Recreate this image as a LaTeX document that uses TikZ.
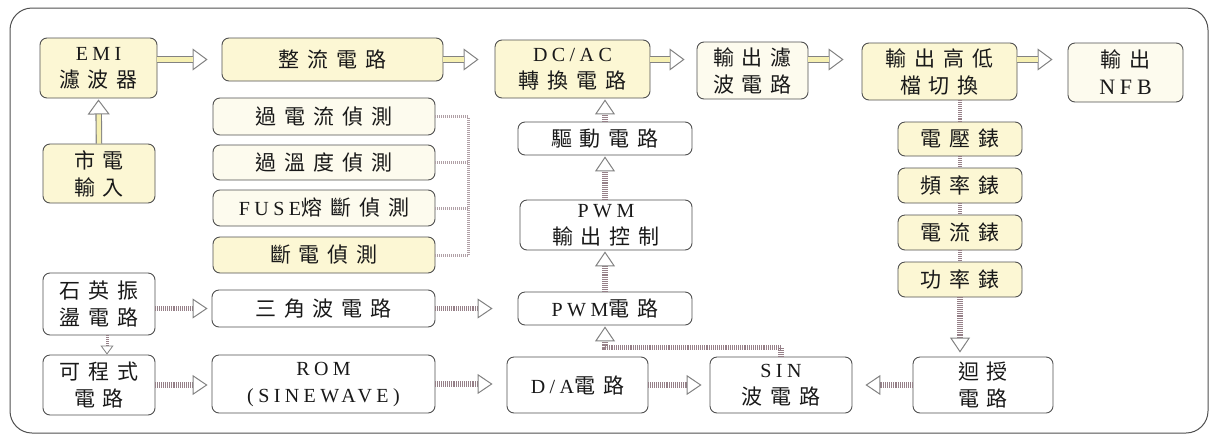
\documentclass[tikz,border=0pt]{standalone}
\usepackage{fontspec}
\setmainfont[LetterSpace=22]{Liberation Serif}
\newfontfamily\cjk[LetterSpace=38]{Noto Sans CJK TC}
\usetikzlibrary{arrows.meta,calc}
\definecolor{yfill}{RGB}{252,247,212}
\definecolor{lfill}{RGB}{253,251,238}
\definecolor{edge}{RGB}{80,80,80}
\definecolor{ladc}{RGB}{150,128,136}
\definecolor{headc}{RGB}{130,130,130}
\definecolor{yshaft}{RGB}{246,240,178}
\definecolor{txt}{RGB}{25,25,25}
\tikzset{
  box/.style n args={2}{draw=edge, line width=0.9pt, rounded corners=7pt,
    minimum width=#1pt, minimum height=#2pt, inner sep=0pt, align=center,
    text=txt, font=\fontsize{20}{27}\selectfont},
  ybox/.style n args={2}{box={#1}{#2}, fill=yfill},
  lbox/.style n args={2}{box={#1}{#2}, fill=lfill},
  wbox/.style n args={2}{box={#1}{#2}, fill=white},
  cj/.style={font=\fontsize{21}{27}\selectfont\cjk},
  yarrow/.style={draw=headc, line width=6.5pt, shorten >=#1,
    -{Triangle[open, length=15pt, width=22pt, line width=1pt, color=headc]},
    postaction={draw=yshaft, line width=4.3pt, arrows=-, shorten >=#1+15pt}},
  lad/.style={draw=ladc, line width=5.5pt, dash pattern=on 0.9pt off 1pt, shorten >=#1,
    -{Triangle[open, length=15pt, width=20pt, line width=1pt, color=headc]}},
  ladplain/.style={draw=ladc, line width=4.5pt, dash pattern=on 0.9pt off 1pt},
  brk/.style={draw=ladc!75, line width=3pt, dash pattern=on 0.9pt off 1.1pt},
  frame/.style={draw=edge, line width=1pt, rounded corners=22pt}
}
\newcommand\cj[1]{{\fontsize{21}{27}\selectfont\cjk #1}}
\begin{document}
\begin{tikzpicture}[x=1pt,y=-1pt]
\useasboundingbox (0,0) rectangle (1212,437);
\draw[frame] (10,8) rectangle (1208,433);

% nodes
\node[ybox={117}{60}] (emi) at (98.5,68) {EMI\\\cj{濾波器}};
\node[ybox={112}{59}, cj] (mains) at (99,173.5) {市電\\輸入};
\node[ybox={221}{43}, cj] (rect) at (332.5,59.5) {整流電路};
\node[lbox={222}{37}, cj] (det1) at (324,116.5) {過電流偵測};
\node[lbox={222}{35}, cj] (det2) at (324,162.5) {過溫度偵測};
\node[lbox={222}{36}] (det3) at (324,208) {FUSE\cj{熔斷偵測}};
\node[ybox={222}{36}, cj] (det4) at (324,255) {斷電偵測};
\node[wbox={112}{62}, cj] (quartz) at (99,304) {石英振\\盪電路};
\node[wbox={112}{60}, cj] (prog) at (99,385) {可程式\\電路};
\node[wbox={223}{37}, cj] (tri) at (323.5,308.5) {三角波電路};
\node[wbox={223}{58}] (rom) at (323.5,384) {ROM\\(SINEWAVE)};
\node[ybox={155}{58}] (dcac) at (572.5,69) {DC/AC\\\cj{轉換電路}};
\node[wbox={174}{33}, cj] (drv) at (605,138.5) {驅動電路};
\node[wbox={172}{50}] (pwmctl) at (606,225) {PWM\\\cj{輸出控制}};
\node[wbox={174}{33}] (pwm) at (605,308.5) {PWM\cj{電路}};
\node[wbox={141}{56}] (da) at (577.5,385) {D/A\cj{電路}};
\node[wbox={142}{56}] (sin) at (781,385) {SIN\\\cj{波電路}};
\node[wbox={140}{56}, cj] (fb) at (983,385) {迴授\\電路};
\node[lbox={111}{57}, cj] (ofilt) at (752.5,70.5) {輸出濾\\波電路};
\node[ybox={155}{57}, cj] (hl) at (939.5,71.5) {輸出高低\\檔切換};
\node[lbox={115}{59}] (nfb) at (1125.5,72.5) {\cj{輸出}\\{\fontsize{22}{27}\selectfont NFB}};
\node[ybox={124}{34}, cj] (m1) at (960,139) {電壓錶};
\node[ybox={124}{35}, cj] (m2) at (960,185.5) {頻率錶};
\node[ybox={124}{35}, cj] (m3) at (960,232.5) {電流錶};
\node[ybox={124}{35}, cj] (m4) at (960,279.5) {功率錶};

% top row arrows
\draw[yarrow=14pt] (emi.east |- rect.west) -- (rect.west);
\draw[yarrow=16pt] (rect.east) -- (rect.east -| dcac.west);
\draw[yarrow=12pt] (dcac.east |- rect.east) -- (ofilt.west |- rect.east);
\draw[yarrow=18pt] (ofilt.east |- rect.east) -- (hl.west |- rect.east);
\draw[yarrow=15pt] (hl.east |- rect.east) -- (nfb.west |- rect.east);
\draw[yarrow=1pt] (mains.north) -- (emi.south);

% meters chain
\draw[ladplain] (m1.north |- hl.south) -- (m1.north);
\draw[ladplain] (m1.south) -- (m2.north);
\draw[ladplain] (m2.south) -- (m3.north);
\draw[ladplain] (m3.south) -- (m4.north);
\draw[lad=4pt] (m4.south) -- (m4.south |- fb.north);
\draw[lad=13pt] (fb.west) -- (sin.east);

% lower chains
\draw[lad=4pt] (quartz.east |- tri.west) -- (tri.west);
\draw[lad=25pt] (tri.east) -- (tri.east -| pwm.west);
\draw[lad=4pt] (prog.east) -- (prog.east -| rom.west);
\draw[lad=14pt] (rom.east) -- (rom.east -| da.west);
\draw[lad=8pt] (da.east) -- (da.east -| sin.west);
\draw[draw=ladc, line width=3pt, dash pattern=on 0.8pt off 1.1pt,
  -{Triangle[open, length=9pt, width=13pt, line width=0.8pt, color=headc]}]
  ([xshift=8pt]quartz.south) -- ([xshift=8pt]quartz.south |- prog.north);

% PWM column
\coordinate (j) at ($(sin.north)+(0,-9)$);
\draw[lad=1pt] (sin.north) -- (j) -| (pwm.south);
\draw[lad=1pt] (pwm.north) -- (pwm.north |- pwmctl.south);
\draw[lad=1pt] (pwmctl.north -| drv.south) -- (drv.south);
\draw[lad=1pt] (drv.north) -- (drv.north |- dcac.south);

% detection bracket
\path (det1.east) ++(33,0) coordinate (bx);
\draw[brk] (det1.east) -- (bx) -- (bx |- det4.east) -- (det4.east);
\draw[brk] (det2.east) -- (det2.east -| bx);
\draw[brk] (det3.east) -- (det3.east -| bx);
\draw[draw=none, -{Triangle[open, length=16pt, width=14pt, line width=1pt, color=headc]}, shorten >=24pt]
  (bx |- pwmctl.west) -- (pwmctl.west);
\end{tikzpicture}
\end{document}
